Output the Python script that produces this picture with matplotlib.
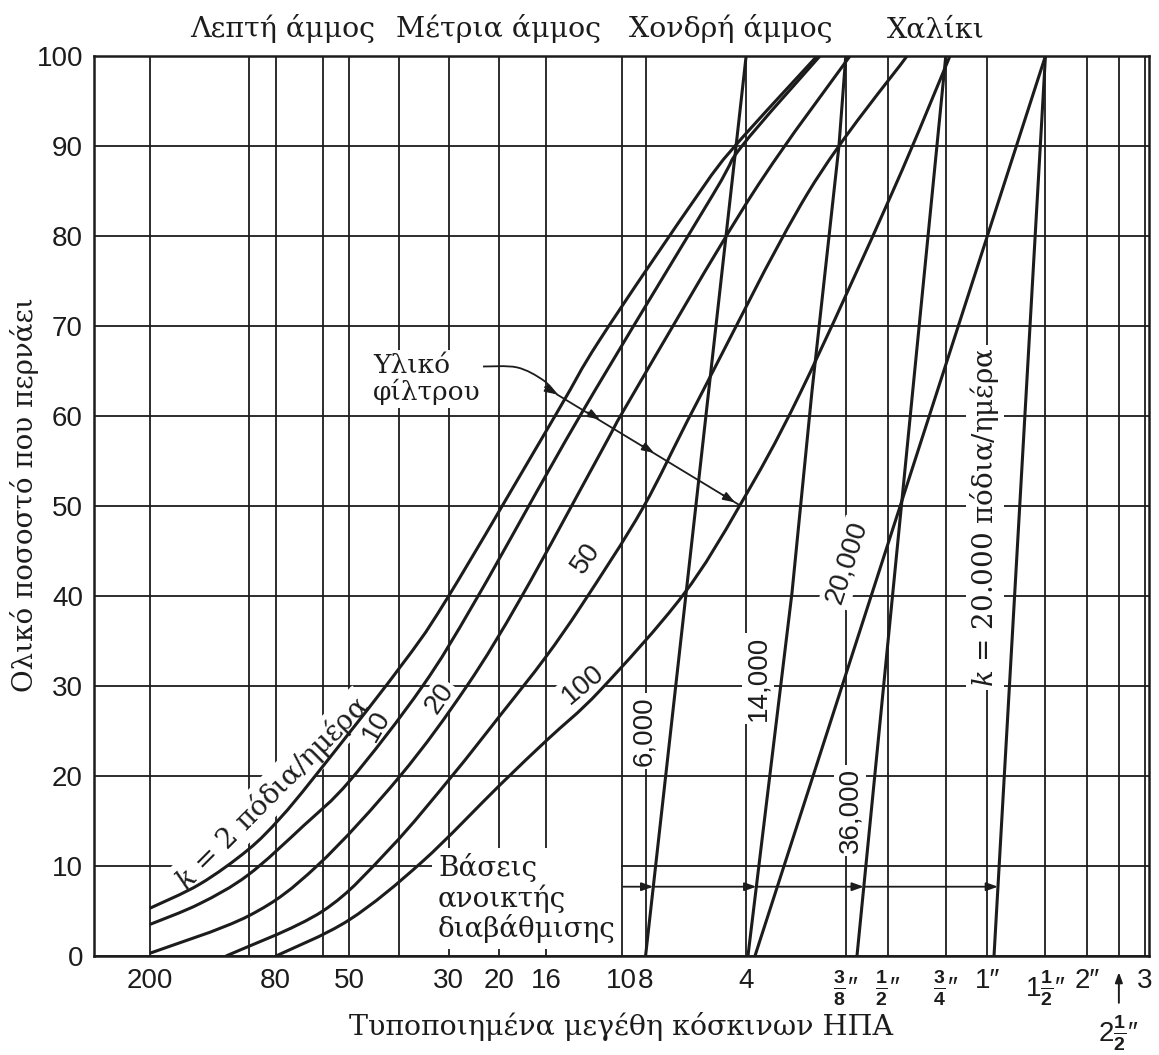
import numpy as np
import matplotlib
matplotlib.use("Agg")
import matplotlib.pyplot as plt
from matplotlib.path import Path
from matplotlib.patches import PathPatch
from matplotlib.ticker import NullFormatter

# fonts: sans for numbers, serif for the Greek captions
SANS = ['Liberation Sans', 'DejaVu Sans']
SERIF = ['DejaVu Serif', 'DejaVu Sans']
plt.rcParams['font.family'] = SANS
plt.rcParams['mathtext.fontset'] = 'custom'
plt.rcParams['mathtext.rm'] = 'Liberation Sans'
plt.rcParams['mathtext.it'] = 'DejaVu Serif:italic'
plt.rcParams['mathtext.bf'] = 'Liberation Sans:bold'

INK = '#1c1c1c'

# ---- sieve scale (US standard sieves, opening in mm) ----
sieve_mm = [0.075, 0.18, 0.30, 0.60, 0.85, 1.18, 2.0, 2.36, 4.75,
            9.5, 12.7, 19.05, 25.4, 38.1, 50.8, 63.5, 76.2]
sieve_labels = ['200', '80', '50', '30', '20', '16', '10', '8', '4',
                r'$\frac{\mathbf{3}}{\mathbf{8}}$″', r'$\frac{\mathbf{1}}{\mathbf{2}}$″',
                r'$\frac{\mathbf{3}}{\mathbf{4}}$″', '1″', r'1$\frac{\mathbf{1}}{\mathbf{2}}$″',
                '2″', '', '3']
grid_only_mm = [0.15, 0.25, 0.425]          # #100, #60, #40
pct_ticks = list(range(0, 101, 10))

# ---- filter material gradation curves (size mm, % passing) ----
k2_mm = [0.075, 0.1064, 0.1486, 0.1856, 0.237, 0.422, 0.593, 1.257, 1.719, 3.398, 4.397, 7.78]
k2_pct = [5.3, 8.0, 11.8, 15.3, 20.0, 31.8, 39.7, 60.0, 68.5, 84.6, 90.0, 100.0]

k10_mm = [0.075, 0.106, 0.1486, 0.219, 0.302, 0.4985, 0.731, 1.495, 3.772, 4.616, 7.94]
k10_pct = [3.5, 5.8, 9.0, 14.5, 19.5, 29.9, 39.8, 60.0, 84.6, 90.0, 100.0]

k20_mm = [0.075, 0.15, 0.24, 0.428, 0.681, 0.999, 1.719, 2.147, 4.947, 9.785]
k20_pct = [0.3, 4.5, 10.0, 20.0, 30.0, 40.0, 55.8, 62.2, 84.6, 100.0]

k50_mm = [0.1275, 0.25, 0.40, 0.614, 0.857, 1.172, 1.527, 2.318, 3.374, 7.303, 14.55]
k50_pct = [0.0, 5.0, 12.0, 20.0, 26.7, 33.1, 39.2, 49.8, 61.5, 84.8, 100.0]

k100_mm = [0.1805, 0.30, 0.50, 0.857, 1.189, 1.719, 3.062, 4.553, 6.91, 13.19, 19.61]
k100_pct = [0.0, 4.0, 10.5, 19.0, 24.0, 29.5, 40.1, 50.1, 62.5, 85.0, 100.0]

# ---- open-graded bases (size mm, % passing) ----
b6000_mm = [2.36, 4.75]
b6000_pct = [0.0, 100.0]
b14000_mm = [4.811, 6.537, 7.508, 9.06, 9.5]
b14000_pct = [0.0, 40.4, 62.7, 90.0, 100.0]
b20000_mm = [5.051, 38.1]
b20000_pct = [0.0, 100.0]
b36000_mm = [10.27, 19.05]
b36000_pct = [0.0, 100.0]
bk20000_mm = [26.64, 38.1]
bk20000_pct = [0.0, 100.0]

# pointer from the "filter material" caption
filt_arrow_mm = [0.762, 0.965, 1.156, 1.274]
filt_arrow_pct = [65.5, 65.4, 64.0, 62.4]
filt_end = (4.49, 50.2)
filt_tips_mm = [1.274, 1.719, 2.503, 4.397]
filt_tips_pct = [62.4, 59.6, 55.9, 50.4]

# open-graded bases pointer row
bases_pct = 7.7
bases_start_mm = 2.02


def smooth_path(x_mm, pct):
    """Catmull-Rom through the read points, as cubic Bezier segments in log-x."""
    p = np.column_stack([np.log10(x_mm), np.asarray(pct, float)])
    n = len(p)
    verts = [p[0]]
    codes = [Path.MOVETO]
    for i in range(n - 1):
        p0, p1, p2, p3 = p[max(i - 1, 0)], p[i], p[i + 1], p[min(i + 2, n - 1)]
        verts += [p1 + (p2 - p0) / 6.0, p2 - (p3 - p1) / 6.0, p2]
        codes += [Path.CURVE4] * 3
    verts = np.array(verts)
    verts[:, 0] = 10 ** verts[:, 0]
    return Path(verts, codes)


fig = plt.figure(figsize=(11.59, 10.55), dpi=100)
ax = fig.add_axes([94 / 1159, 1 - 956 / 1055, 1055 / 1159, 900 / 1055])
ax.set_xscale('log')
ax.set_xlim(0.0509, 78.3)
ax.set_ylim(0, 100)

ax.set_xticks(sieve_mm, sieve_labels)
ax.set_xticks(grid_only_mm, minor=True)
ax.xaxis.set_minor_formatter(NullFormatter())
ax.set_yticks(pct_ticks)
ax.tick_params(which='both', length=0, labelsize=20, colors=INK)
ax.tick_params(axis='x', pad=9)
ax.tick_params(axis='y', pad=8)
ax.set_axisbelow(True)
ax.grid(True, which='both', color=INK, lw=1.3)
for s in ax.spines.values():
    s.set_color(INK)
    s.set_linewidth(1.8)

# gradation curves
for xs, ys in [(k2_mm, k2_pct), (k10_mm, k10_pct), (k20_mm, k20_pct),
               (k50_mm, k50_pct), (k100_mm, k100_pct)]:
    ax.add_patch(PathPatch(smooth_path(xs, ys), fill=False, ec=INK, lw=2.2, zorder=4))
for xs, ys in [(b6000_mm, b6000_pct), (b14000_mm, b14000_pct), (b20000_mm, b20000_pct),
               (b36000_mm, b36000_pct), (bk20000_mm, bk20000_pct)]:
    ax.plot(xs, ys, color=INK, lw=2.2, zorder=4, solid_capstyle='butt')

lbl_box = dict(facecolor='white', edgecolor='none', pad=2)
serif_kw = dict(family=SERIF, color=INK, zorder=3)
sans_kw = dict(family=SANS, color=INK, zorder=3, bbox=lbl_box,
               ha='center', va='center', rotation_mode='anchor', fontsize=20)

ax.text(0.1755, 18.1, r'$k$ = 2 πόδια/ημέρα', rotation=45, ha='center', va='center',
        rotation_mode='anchor', fontsize=20, bbox=lbl_box, **serif_kw)
ax.text(0.3644, 25.5, '10', rotation=60, **sans_kw)
ax.text(0.5647, 28.6, '20', rotation=55, **sans_kw)
ax.text(1.559, 44.2, '50', rotation=55, **sans_kw)
ax.text(1.527, 30.2, '100', rotation=40, **sans_kw)
ax.text(2.334, 25.0, '6,000', rotation=90, **sans_kw)
ax.text(5.157, 30.8, '14,000', rotation=90, **sans_kw)
ax.text(9.584, 43.7, '20,000', rotation=72, **sans_kw)
ax.text(9.785, 16.2, '36,000', rotation=90, **sans_kw)
ax.text(25.01, 48.7, r'$k$ = 20.000 πόδια/ημέρα', rotation=90, ha='center', va='center',
        rotation_mode='anchor', fontsize=20, bbox=lbl_box, **serif_kw)

ax.text(0.3545, 64.1, 'Υλικό\nφίλτρου', ha='left', va='center', fontsize=19,
        linespacing=1.05, bbox=lbl_box, **serif_kw)
ax.text(0.557, 6.4, 'Βάσεις\nανοικτής\nδιαβάθμισης', ha='left', va='center',
        fontsize=20, linespacing=1.08, bbox=dict(facecolor='white', edgecolor='none', pad=4),
        **serif_kw)

# pointer from "filter material" to the curves
ax.add_patch(PathPatch(smooth_path(filt_arrow_mm, filt_arrow_pct), fill=False,
                       ec=INK, lw=1.3, zorder=5))
ax.plot([filt_arrow_mm[-1], filt_end[0]], [filt_arrow_pct[-1], filt_end[1]],
        color=INK, lw=1.3, zorder=5)
a = ax.transData.transform((filt_arrow_mm[-1], filt_arrow_pct[-1]))
b = ax.transData.transform(filt_end)
d = (b - a) / np.hypot(*(b - a))
head = dict(arrowstyle='-|>,head_length=0.7,head_width=0.25', color=INK, lw=1.3,
            shrinkA=0, shrinkB=0)
for tx, ty in zip(filt_tips_mm, filt_tips_pct):
    ax.annotate('', xy=(tx, ty), xytext=tuple(-d * 14), textcoords='offset pixels',
                arrowprops=head, zorder=5)

# pointer row to the open-graded bases
targets = []
for xs, ys in [(b6000_mm, b6000_pct), (b14000_mm, b14000_pct),
               (b36000_mm, b36000_pct), (bk20000_mm, bk20000_pct)]:
    targets.append(10 ** np.interp(bases_pct, ys, np.log10(xs)))
prev = bases_start_mm
for t in targets:
    ax.annotate('', xy=(t, bases_pct), xytext=(prev, bases_pct), arrowprops=head, zorder=5)
    prev = t

# 2 1/2" sieve marker below the axis
ax.annotate('', xy=(63.5, -0.018), xytext=(63.5, -0.052),
            xycoords=('data', 'axes fraction'), textcoords=('data', 'axes fraction'),
            arrowprops=dict(arrowstyle='-|>,head_length=0.6,head_width=0.22',
                            color=INK, lw=1.4, shrinkA=0, shrinkB=0))
ax.text(63.5, -0.0856, r'2$\frac{\mathbf{1}}{\mathbf{2}}$″', transform=ax.get_xaxis_transform(),
        ha='center', va='center', fontsize=20, color=INK)

# soil class headings and axis titles
for xc, name in [(283, 'Λεπτή άμμος'), (498, 'Μέτρια άμμος'),
                 (731, 'Χονδρή άμμος'), (936, 'Χαλίκι')]:
    fig.text(xc / 1159, 1 - 37 / 1055, name, ha='center', va='baseline',
             fontsize=20.5, family=SERIF, color=INK)
fig.text(621 / 1159, 1 - 1035 / 1055, 'Τυποποιημένα μεγέθη κόσκινων ΗΠΑ',
         ha='center', va='baseline', fontsize=20.5, family=SERIF, color=INK)
fig.text(25 / 1159, 1 - 495 / 1055, 'Ολικό ποσοστό που περνάει', rotation=90,
         ha='center', va='center', fontsize=20, family=SERIF, color=INK)

fig.savefig('out.png', dpi=100, facecolor='white')
